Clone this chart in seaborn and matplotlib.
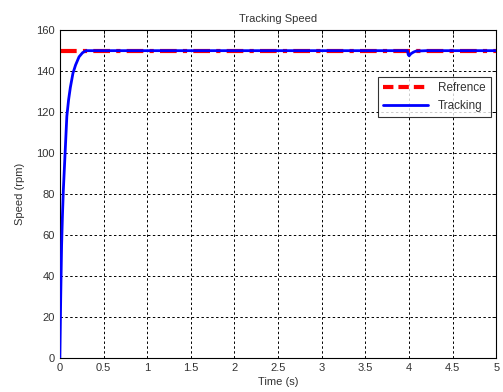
import matplotlib
matplotlib.use("Agg")
import matplotlib.pyplot as plt
import numpy as np
import pandas as pd
import seaborn as sns

# reference speed (rpm)
REF_T = [0.0, 5.0]
REF_V = [150.0, 150.0]

# tracked speed
TRACK_T = [0.0, 0.005, 0.01, 0.02, 0.03, 0.04, 0.06, 0.08, 0.10, 0.12, 0.15,
           0.18, 0.22, 0.26, 0.30, 0.35, 1.0, 2.0, 3.0, 3.98, 3.99, 4.0,
           4.02, 4.05, 4.08, 4.2, 5.0]
TRACK_V = [0.0, 15.0, 30.0, 55.0, 70.0, 82.0, 100.0, 118.0, 126.0, 132.0, 139.0,
           143.0, 147.0, 149.0, 150.0, 150.0, 150.0, 150.0, 150.0, 150.0, 148.0, 147.5,
           148.5, 149.3, 149.8, 150.0, 150.0]

X_TICKS = [0, 0.5, 1, 1.5, 2, 2.5, 3, 3.5, 4, 4.5, 5]
X_LABELS = ["0", "0.5", "1", "1.5", "2", "2.5", "3", "3.5", "4", "4.5", "5"]
Y_TICKS = [0, 20, 40, 60, 80, 100, 120, 140, 160]

sns.set_style("white")
plt.rcParams["font.family"] = ["Liberation Sans", "DejaVu Sans"]

ref = pd.DataFrame({"t": REF_T, "v": REF_V})
trk = pd.DataFrame({"t": TRACK_T, "v": TRACK_V})

fig = plt.figure(figsize=(5.03, 3.92), dpi=100)
ax = fig.add_axes([0.119, 0.087, 0.868, 0.836])

sns.lineplot(data=ref, x="t", y="v", ax=ax, color="#ff0000", linewidth=3.0,
             label="Refrence", zorder=2)
ax.lines[-1].set_dashes((4, 1.5, 1, 1.5))
sns.lineplot(data=trk, x="t", y="v", ax=ax, color="#0000ff", linewidth=2.0,
             label="Tracking", zorder=3)

ax.set_xlim(0, 5)
ax.set_ylim(0, 160)
ax.set_xticks(X_TICKS)
ax.set_xticklabels(X_LABELS)
ax.set_yticks(Y_TICKS)
ax.tick_params(direction="in", top=True, right=True, length=3, width=0.6,
               labelsize=8, colors="black")
ax.tick_params(axis="both", labelcolor="#333333")
ax.grid(True, color="black", linestyle=(0, (2.5, 2.5)), linewidth=0.7)
for s in ax.spines.values():
    s.set_color("black")
    s.set_linewidth(0.8)

ax.set_title("Tracking Speed", fontsize=8, color="#333333", pad=6)
ax.set_xlabel("Time (s)", fontsize=8, color="#333333", labelpad=3)
ax.set_ylabel("Speed (rpm)", fontsize=8, color="#333333", labelpad=8)

leg = ax.legend(loc="upper right", bbox_to_anchor=(1.0, 0.875), fontsize=8.5,
                frameon=True, fancybox=False, edgecolor="black",
                borderpad=0.45, handlelength=3.8, labelspacing=0.45)
leg.get_frame().set_linewidth(0.8)
leg.get_lines()[0].set_dashes((2.5, 1.2))
for t in leg.get_texts():
    t.set_color("#333333")

fig.savefig("out.png", dpi=100)
